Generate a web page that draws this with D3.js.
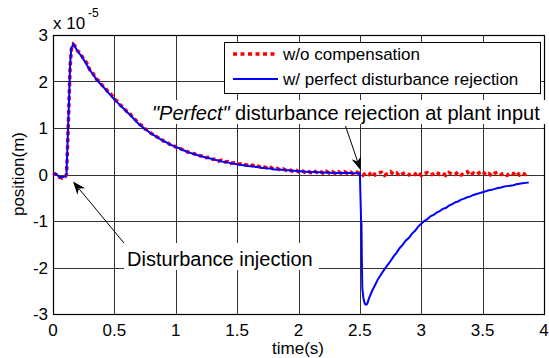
<!DOCTYPE html>
<html>
<head>
<meta charset="utf-8">
<script src="https://cdn.jsdelivr.net/npm/d3@7"></script>
<style>
  body { margin: 0; background: #fff; }
  svg { font-family: "Liberation Sans", Arial, sans-serif; }
</style>
</head>
<body>
<svg id="chart" width="549" height="358"></svg>
<script>
// tick labels
const xTicks = [0, 0.5, 1, 1.5, 2, 2.5, 3, 3.5, 4];
const yTicks = [-3, -2, -1, 0, 1, 2, 3];

// legend names
const seriesNames = ["w/o compensation", "w/ perfect disturbance rejection"];

// position in units of 1e-5 m, [time(s), value]
const redData = [
  [0, 0.03], [0.025, 0.0], [0.05, -0.06], [0.075, -0.08], [0.1, -0.05], [0.11, 0.0],
  [0.12, 0.7], [0.13, 1.5], [0.14, 2.35], [0.15, 2.7], [0.165, 2.8], [0.18, 2.76],
  [0.2, 2.66], [0.225, 2.6], [0.25, 2.48], [0.275, 2.4], [0.3, 2.25], [0.325, 2.18],
  [0.35, 2.06], [0.375, 2.01], [0.4, 1.92], [0.425, 1.86], [0.45, 1.77], [0.475, 1.72],
  [0.5, 1.62], [0.525, 1.57], [0.55, 1.49], [0.575, 1.44], [0.6, 1.36], [0.625, 1.31],
  [0.65, 1.23], [0.675, 1.17], [0.7, 1.09], [0.725, 1.05], [0.75, 0.98], [0.775, 0.95],
  [0.8, 0.88], [0.825, 0.86], [0.85, 0.8], [0.875, 0.78], [0.9, 0.72], [0.925, 0.71],
  [0.95, 0.65], [0.975, 0.64], [1.0, 0.59], [1.025, 0.58], [1.05, 0.54], [1.075, 0.53],
  [1.1, 0.48], [1.125, 0.48], [1.15, 0.44], [1.175, 0.44], [1.2, 0.4], [1.225, 0.4],
  [1.25, 0.36], [1.275, 0.37], [1.3, 0.33], [1.325, 0.33], [1.35, 0.29], [1.375, 0.31],
  [1.4, 0.27], [1.425, 0.28], [1.45, 0.24], [1.475, 0.25], [1.5, 0.22], [1.525, 0.23],
  [1.55, 0.2], [1.575, 0.21], [1.6, 0.18], [1.625, 0.2], [1.65, 0.16], [1.675, 0.18],
  [1.7, 0.14], [1.725, 0.16], [1.75, 0.13], [1.775, 0.15], [1.8, 0.11], [1.825, 0.13],
  [1.85, 0.1], [1.875, 0.12], [1.9, 0.09], [1.925, 0.11], [1.95, 0.07], [1.975, 0.1],
  [2.0, 0.06], [2.025, 0.09], [2.05, 0.05], [2.075, 0.08], [2.1, 0.04], [2.125, 0.08],
  [2.15, 0.04], [2.175, 0.07], [2.2, 0.03], [2.225, 0.07], [2.25, 0.03], [2.275, 0.06],
  [2.3, 0.02], [2.325, 0.06], [2.35, 0.02], [2.375, 0.06], [2.4, 0.02], [2.425, 0.05],
  [2.45, 0.01], [2.475, 0.05], [2.5, 0.02], [2.525, -0.02], [2.55, 0.04], [2.575, 0.0],
  [2.6, 0.06], [2.625, -0.01], [2.65, 0.03], [2.675, 0.05], [2.7, -0.02], [2.725, 0.02],
  [2.75, 0.06], [2.775, 0.0], [2.8, 0.03], [2.825, -0.03], [2.85, 0.02], [2.875, 0.04],
  [2.9, -0.01], [2.925, 0.03], [2.95, 0.0], [2.975, 0.05], [3.0, -0.02], [3.025, 0.02],
  [3.05, 0.04], [3.075, -0.01], [3.1, 0.01], [3.125, 0.05], [3.15, 0.0], [3.175, 0.03],
  [3.2, -0.02], [3.225, 0.04], [3.25, 0.01], [3.275, 0.0], [3.3, 0.05], [3.325, -0.01],
  [3.35, 0.02], [3.375, 0.06], [3.4, -0.02], [3.425, 0.03], [3.45, 0.0], [3.475, 0.04],
  [3.5, 0.07], [3.525, -0.01], [3.55, 0.02], [3.575, -0.03], [3.6, 0.03], [3.625, 0.05],
  [3.65, 0.0], [3.675, 0.02], [3.7, -0.02], [3.725, 0.04], [3.75, 0.01], [3.775, 0.06],
  [3.8, -0.01], [3.825, 0.03], [3.85, 0.0], [3.875, 0.05]
];

const blueData = [
  [0, 0.02], [0.025, 0.01], [0.05, -0.05], [0.075, -0.06], [0.1, -0.04], [0.11, 0.02],
  [0.12, 0.8], [0.13, 1.55], [0.14, 2.4], [0.15, 2.72], [0.165, 2.8], [0.18, 2.74],
  [0.2, 2.65], [0.225, 2.57], [0.25, 2.47], [0.275, 2.36], [0.3, 2.25], [0.325, 2.15],
  [0.35, 2.06], [0.375, 1.98], [0.4, 1.91], [0.425, 1.84], [0.45, 1.76], [0.475, 1.69],
  [0.5, 1.61], [0.525, 1.55], [0.55, 1.48], [0.575, 1.42], [0.6, 1.35], [0.625, 1.29],
  [0.65, 1.22], [0.675, 1.15], [0.7, 1.08], [0.725, 1.03], [0.75, 0.98], [0.775, 0.93],
  [0.8, 0.88], [0.825, 0.84], [0.85, 0.8], [0.875, 0.76], [0.9, 0.72], [0.925, 0.69],
  [0.95, 0.65], [0.975, 0.62], [1.0, 0.59], [1.025, 0.57], [1.05, 0.53], [1.075, 0.51],
  [1.1, 0.48], [1.125, 0.46], [1.15, 0.44], [1.175, 0.42], [1.2, 0.4], [1.225, 0.38],
  [1.25, 0.36], [1.275, 0.35], [1.3, 0.33], [1.325, 0.31], [1.35, 0.3], [1.375, 0.28],
  [1.4, 0.27], [1.425, 0.26], [1.45, 0.24], [1.475, 0.23], [1.5, 0.22], [1.525, 0.21],
  [1.55, 0.2], [1.575, 0.19], [1.6, 0.18], [1.625, 0.18], [1.65, 0.16], [1.675, 0.16],
  [1.7, 0.14], [1.725, 0.14], [1.75, 0.13], [1.775, 0.13], [1.8, 0.11], [1.825, 0.11],
  [1.85, 0.1], [1.875, 0.1], [1.9, 0.09], [1.925, 0.09], [1.95, 0.08], [1.975, 0.08],
  [2.0, 0.07], [2.025, 0.07], [2.05, 0.06], [2.075, 0.06], [2.1, 0.05], [2.125, 0.06],
  [2.15, 0.05], [2.175, 0.05], [2.2, 0.04], [2.225, 0.05], [2.25, 0.04], [2.275, 0.04],
  [2.3, 0.03], [2.325, 0.04], [2.35, 0.03], [2.375, 0.04], [2.4, 0.03], [2.425, 0.03],
  [2.45, 0.02], [2.475, 0.03], [2.5, 0.02], [2.505, -0.5], [2.51, -1.0], [2.513, -1.05],
  [2.516, -1.8], [2.52, -2.45], [2.53, -2.68], [2.54, -2.78], [2.55, -2.8], [2.56, -2.78],
  [2.575, -2.66], [2.6, -2.5], [2.625, -2.37], [2.65, -2.24], [2.675, -2.14], [2.7, -2.04],
  [2.725, -1.95], [2.75, -1.86], [2.775, -1.76], [2.8, -1.68], [2.825, -1.58], [2.85, -1.51],
  [2.875, -1.42], [2.9, -1.36], [2.925, -1.27], [2.95, -1.21], [2.975, -1.12], [3.0, -1.06],
  [3.025, -1.0], [3.05, -0.96], [3.075, -0.9], [3.1, -0.87], [3.125, -0.82], [3.15, -0.79],
  [3.175, -0.74], [3.2, -0.72], [3.225, -0.67], [3.25, -0.64], [3.275, -0.6], [3.3, -0.58],
  [3.325, -0.54], [3.35, -0.52], [3.375, -0.49], [3.4, -0.47], [3.425, -0.44], [3.45, -0.42],
  [3.475, -0.4], [3.5, -0.38], [3.525, -0.36], [3.55, -0.34], [3.575, -0.33], [3.6, -0.31],
  [3.625, -0.29], [3.65, -0.28], [3.675, -0.26], [3.7, -0.25], [3.725, -0.24], [3.75, -0.23],
  [3.775, -0.21], [3.8, -0.2], [3.825, -0.19], [3.85, -0.18], [3.875, -0.17]
];

const svg = d3.select("#chart");
const plotL = 53, plotR = 544, plotT = 35, plotB = 314;

let x = d3.scaleLinear().domain([0, 4]).range([plotL, plotR]);
let y = d3.scaleLinear().domain([-3, 3]).range([plotB, plotT]);

// grid
svg.append("g").selectAll("line")
  .data(xTicks)
  .enter().append("line")
  .attr("x1", d => Math.round(x(d)) + 0.5).attr("x2", d => Math.round(x(d)) + 0.5)
  .attr("y1", plotT).attr("y2", plotB)
  .attr("stroke", "#333");

svg.append("g").selectAll("line")
  .data(yTicks)
  .enter().append("line")
  .attr("y1", d => Math.round(y(d)) + 0.5).attr("y2", d => Math.round(y(d)) + 0.5)
  .attr("x1", plotL).attr("x2", plotR)
  .attr("stroke", "#333");

// frame
svg.append("rect")
  .attr("x", plotL + 0.5).attr("y", plotT + 0.5)
  .attr("width", plotR - plotL).attr("height", plotB - plotT)
  .attr("fill", "none").attr("stroke", "#000").attr("stroke-width", 1.2);

// tick labels
svg.append("g").selectAll("text")
  .data(xTicks)
  .enter().append("text")
  .attr("x", d => x(d)).attr("y", 336)
  .attr("text-anchor", "middle")
  .attr("font-size", 17)
  .text(d => d);

svg.append("g").selectAll("text")
  .data(yTicks)
  .enter().append("text")
  .attr("x", 48).attr("y", d => y(d))
  .attr("dy", "0.36em")
  .attr("text-anchor", "end")
  .attr("font-size", 17)
  .text(d => d);

// exponent
svg.append("text").attr("x", 53).attr("y", 29).attr("font-size", 17).text("x 10");
svg.append("text").attr("x", 88).attr("y", 17).attr("font-size", 12).text("-5");

// axis labels
svg.append("text")
  .attr("x", 298).attr("y", 354)
  .attr("text-anchor", "middle").attr("font-size", 17)
  .text("time(s)");
svg.append("text")
  .attr("transform", "translate(24,174) rotate(-90)")
  .attr("text-anchor", "middle").attr("font-size", 17)
  .text("position(m)");

// lines
let line = d3.line().x(d => x(d[0])).y(d => y(d[1]));

svg.append("path")
  .datum(redData)
  .attr("d", line)
  .attr("fill", "none")
  .attr("stroke", "#ff0000")
  .attr("stroke-width", 3.5)
  .attr("stroke-dasharray", "4,3");

svg.append("path")
  .datum(blueData)
  .attr("d", line)
  .attr("fill", "none")
  .attr("stroke", "#0000ff")
  .attr("stroke-width", 2);

// annotations
svg.append("rect").attr("x", 148).attr("y", 100).attr("width", 398).attr("height", 24).attr("fill", "#fff");
let perfect = svg.append("text").attr("x", 152).attr("y", 120).attr("font-size", 20);
perfect.append("tspan").attr("font-style", "italic").text("\"Perfect\"");
perfect.append("tspan").text(" disturbance rejection at plant input");

svg.append("rect").attr("x", 124).attr("y", 243).attr("width", 195).attr("height", 27).attr("fill", "#fff");
svg.append("text").attr("x", 127).attr("y", 266).attr("font-size", 20).text("Disturbance injection");

function arrow(x1, y1, x2, y2) {
  let ang = Math.atan2(y2 - y1, x2 - x1);
  let len = 13, w = 5;
  let bx = x2 - len * Math.cos(ang), by = y2 - len * Math.sin(ang);
  let nx = -Math.sin(ang) * w, ny = Math.cos(ang) * w;
  let mx = x2 - len * 0.7 * Math.cos(ang), my = y2 - len * 0.7 * Math.sin(ang);
  svg.append("line")
    .attr("x1", x1).attr("y1", y1).attr("x2", mx).attr("y2", my)
    .attr("stroke", "#000").attr("stroke-width", 1);
  svg.append("path")
    .attr("d", `M${x2},${y2}L${bx + nx},${by + ny}L${mx},${my}L${bx - nx},${by - ny}Z`)
    .attr("fill", "#000");
}
arrow(345.5, 126, 360.5, 170);
arrow(124, 243, 73, 181.5);

// legend
svg.append("rect")
  .attr("x", 224.5).attr("y", 42.5).attr("width", 316).attr("height", 51)
  .attr("fill", "#fff").attr("stroke", "#000").attr("stroke-width", 1);

let legendY = [54, 79];
svg.append("line").attr("x1", 233).attr("x2", 275).attr("y1", legendY[0]).attr("y2", legendY[0])
  .attr("stroke", "#ff0000").attr("stroke-width", 3.5).attr("stroke-dasharray", "4,3.5");
svg.append("line").attr("x1", 233).attr("x2", 278).attr("y1", legendY[1]).attr("y2", legendY[1])
  .attr("stroke", "#0000ff").attr("stroke-width", 2);

svg.append("g").selectAll("text")
  .data(seriesNames)
  .enter().append("text")
  .attr("x", 283).attr("y", (d, i) => legendY[i])
  .attr("dy", "0.36em")
  .attr("font-size", 17)
  .text(d => d);
</script>
</body>
</html>
